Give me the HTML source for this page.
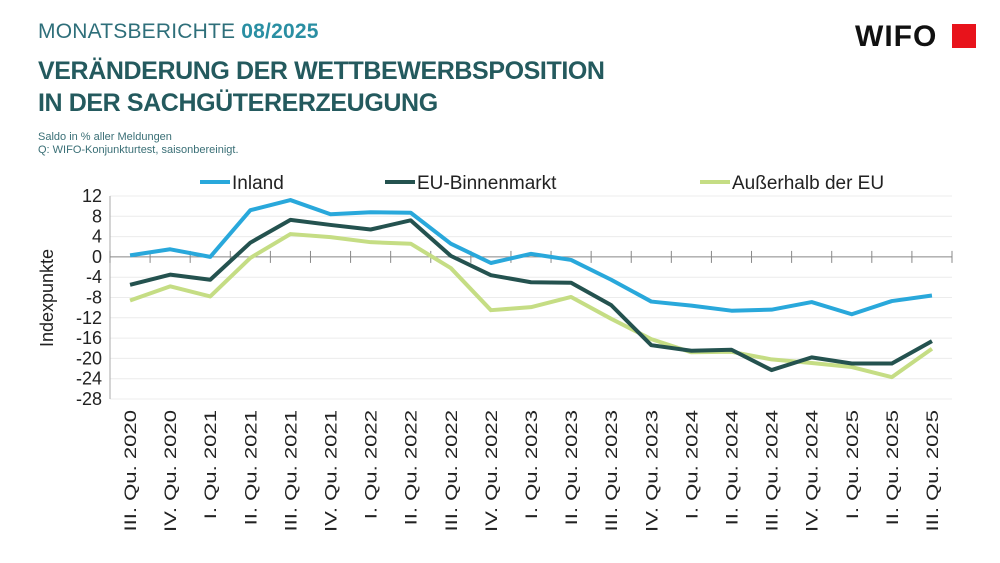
<!DOCTYPE html>
<html><head><meta charset="utf-8"><style>
body{margin:0;width:1000px;height:563px;background:#fff;font-family:"Liberation Sans",sans-serif;overflow:hidden;position:relative}
.h1{position:absolute;left:38px;top:20px;font-size:21px;color:#2e6f7a;letter-spacing:0.2px}
.h1 b{color:#2a8fa3}
.t{position:absolute;left:38px;top:55px;font-size:25px;font-weight:bold;color:#245a5e;line-height:32px;letter-spacing:-0.4px}
.s{position:absolute;left:38px;top:131px;font-size:11px;color:#3a6f76;line-height:13px}
.logo{position:absolute;left:855px;top:20px;font-size:30px;font-weight:bold;color:#111;letter-spacing:1px}
.sq{position:absolute;left:952px;top:24px;width:24px;height:24px;background:#e8131b}
</style></head><body>
<div class="h1">MONATSBERICHTE <b>08/2025</b></div>
<div class="t">VERÄNDERUNG DER WETTBEWERBSPOSITION<br>IN DER SACHGÜTERERZEUGUNG</div>
<div class="s">Saldo in % aller Meldungen<br>Q: WIFO-Konjunkturtest, saisonbereinigt.</div>
<div class="logo">WIFO</div>
<div class="sq"></div>
<svg id="c" width="1000" height="563" style="position:absolute;left:0;top:0"></svg>
<script>
const categories=["III. Qu. 2020","IV. Qu. 2020","I. Qu. 2021","II. Qu. 2021","III. Qu. 2021","IV. Qu. 2021","I. Qu. 2022","II. Qu. 2022","III. Qu. 2022","IV. Qu. 2022","I. Qu. 2023","II. Qu. 2023","III. Qu. 2023","IV. Qu. 2023","I. Qu. 2024","II. Qu. 2024","III. Qu. 2024","IV. Qu. 2024","I. Qu. 2025","II. Qu. 2025","III. Qu. 2025"];
const inland=[0.3,1.5,0,9.2,11.2,8.4,8.8,8.7,2.6,-1.2,0.6,-0.6,-4.5,-8.8,-9.6,-10.6,-10.4,-8.9,-11.3,-8.7,-7.6];
const euBinnen=[-5.5,-3.5,-4.5,2.8,7.3,6.3,5.4,7.2,0.2,-3.6,-5,-5.1,-9.5,-17.4,-18.5,-18.3,-22.3,-19.8,-21,-21,-16.6];
const ausserhalb=[-8.6,-5.8,-7.8,-0.2,4.5,3.9,2.9,2.6,-2.2,-10.5,-9.9,-7.9,-12.2,-16.2,-18.8,-18.7,-20.2,-20.9,-21.7,-23.7,-18.1];
const yTicks=[12,8,4,0,-4,-8,-12,-16,-20,-24,-28];
const NS="http://www.w3.org/2000/svg",svg=document.getElementById('c');
const L=110,R=952,T=196,B=399,yMax=12,yMin=-28;
const bw=(R-L)/categories.length;
const x=i=>L+bw*(i+0.5);
const y=v=>T+(yMax-v)/(yMax-yMin)*(B-T);
function mk(t,a,p){const e=document.createElementNS(NS,t);for(const k in a)e.setAttribute(k,a[k]);(p||svg).appendChild(e);return e;}
yTicks.forEach(v=>{
 if(v!==0){const g=mk('line',{x1:L,x2:R,y1:y(v),y2:y(v),stroke:'#ececec','stroke-width':1});
 
 }
 const t=mk('text',{x:L-8,y:y(v)+6,'text-anchor':'end','font-size':18,fill:'#222'});t.textContent=v;
 
 
});
const ax=mk('line',{x1:L,x2:L,y1:T,y2:B,stroke:'#aaa'});


const zx=mk('line',{x1:L,x2:R,y1:y(0),y2:y(0),stroke:'#888'});


for(let i=0;i<=categories.length;i++){const tk=mk('line',{x1:L+bw*i,x2:L+bw*i,y1:y(0)-6,y2:y(0)+6,stroke:'#888'});
 
 }
categories.forEach((c,i)=>{const t=mk('text',{transform:`translate(${x(i)+6},410) rotate(-90) scale(1.3,1)`,'text-anchor':'end','font-size':17,fill:'#222'});t.textContent=c;
 
 });
const yt=mk('text',{transform:'translate(53,298) rotate(-90)','text-anchor':'middle','font-size':18,fill:'#222'});yt.textContent='Indexpunkte';


const series=[[ausserhalb,'#c5dd84','Außerhalb der EU',700],[euBinnen,'#24524f','EU-Binnenmarkt',385],[inland,'#29a8db','Inland',200]];
series.forEach(([d,col,name,lx])=>{
 const p=mk('polyline',{points:d.map((v,i)=>x(i)+','+y(v)).join(' '),fill:'none',stroke:col,'stroke-width':4,'stroke-linejoin':'round'});
 
 
 const ll=mk('line',{x1:lx,x2:lx+30,y1:182,y2:182,stroke:col,'stroke-width':4});
 
 
 const lt=mk('text',{x:lx+32,y:189,'font-size':19,fill:'#222'});lt.textContent=name;
 
 
});
</script>
</body></html>
